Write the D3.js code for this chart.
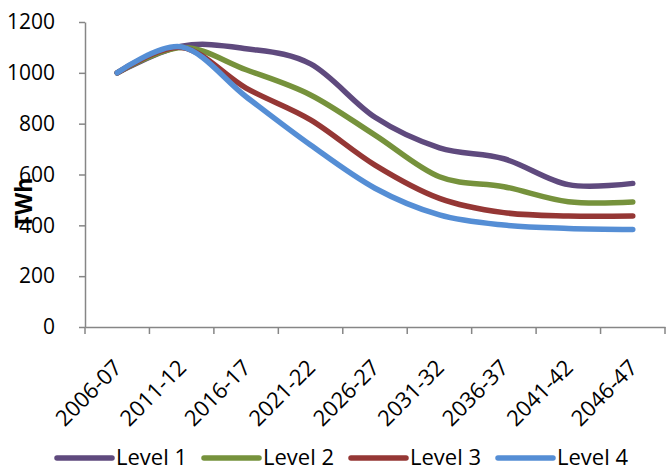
<!DOCTYPE html>
<html>
<head>
<meta charset="utf-8">
<script src="https://cdn.jsdelivr.net/npm/d3@7"></script>
<style>
  html, body { margin: 0; padding: 0; background: #fff; }
  svg { display: block; font-family: "Open Sans", sans-serif; }
</style>
</head>
<body>
<svg id="chart" width="666" height="470"></svg>
<script>
// Electricity demand scenarios, TWh per five-year period
const categories = ["2006-07", "2011-12", "2016-17", "2021-22", "2026-27", "2031-32", "2036-37", "2041-42", "2046-47"];
const seriesNames = ["Level 1", "Level 2", "Level 3", "Level 4"];
const level1 = [1000, 1105, 1095, 1035, 825, 705, 662, 560, 565];
const level2 = [1000, 1100, 1012, 913, 755, 591, 552, 493, 492];
const level3 = [1000, 1100, 940, 815, 637, 506, 450, 437, 437];
const level4 = [1000, 1102, 906, 716, 546, 441, 401, 388, 384];
const yTicks = [0, 200, 400, 600, 800, 1000, 1200];
const colors = ["#5f4a7e", "#76923c", "#953735", "#558ed5"];

const seriesValues = [level1, level2, level3, level4];

const svg = d3.select("#chart");
const plot = { left: 85, right: 665, top: 22, bottom: 327 };

const x = d3.scaleBand().domain(categories).range([plot.left, plot.right]);
const y = d3.scaleLinear().domain([0, 1200]).range([plot.bottom, plot.top]);

const axisColor = "#868686";

// Y axis
const yAxis = svg.append("g")
  .attr("transform", `translate(${plot.left},0)`)
  .call(d3.axisLeft(y).tickValues(yTicks).tickFormat(d3.format("d"))
    .tickSize(6).tickPadding(24).tickSizeOuter(0));
yAxis.select(".domain").attr("stroke", axisColor).attr("stroke-width", 1.5);
yAxis.selectAll(".tick line").attr("stroke", axisColor).attr("stroke-width", 1.5);
yAxis.selectAll(".tick text")
  .attr("font-size", 21).attr("fill", "#000")
  .attr("font-family", "'Open Sans', sans-serif");

// X axis: tick marks sit on category boundaries, labels at category centres
const xAxis = svg.append("g")
  .attr("transform", `translate(0,${plot.bottom})`)
  .call(d3.axisBottom(x).tickSize(0).tickSizeOuter(0).tickPadding(0));
xAxis.select(".domain").attr("stroke", axisColor).attr("stroke-width", 1.5);
xAxis.selectAll(".tick text")
  .attr("font-size", 22).attr("fill", "#000")
  .attr("font-family", "'Open Sans', sans-serif")
  .attr("text-anchor", "end")
  .attr("dy", 0)
  .attr("transform", "translate(6,42) rotate(-45)");

const edges = categories.map(c => x(c)).concat([plot.right]);
xAxis.selectAll("line.edge")
  .data(edges)
  .join("line")
  .attr("class", "edge")
  .attr("x1", d => d).attr("x2", d => d)
  .attr("y1", 0).attr("y2", 7)
  .attr("stroke", axisColor).attr("stroke-width", 1.5);

// Y axis title
svg.append("text")
  .attr("transform", `translate(32,${203}) rotate(-90)`)
  .attr("text-anchor", "middle")
  .attr("font-size", 23).attr("font-weight", "bold")
  .attr("fill", "#000")
  .text("TWh");

// Smoothed series lines
const line = d3.line()
  .x((d, i) => x(categories[i]) + x.bandwidth() / 2)
  .y(d => y(d))
  .curve(d3.curveCardinal.tension(0));

svg.append("g")
  .selectAll("path")
  .data(seriesValues)
  .join("path")
  .attr("d", d => line(d))
  .attr("fill", "none")
  .attr("stroke", (d, i) => colors[i])
  .attr("stroke-width", 5.5)
  .attr("stroke-linecap", "round")
  .attr("stroke-linejoin", "round");

// Legend
const legend = svg.append("g").attr("transform", "translate(57,458)");
const item = legend.selectAll("g")
  .data(seriesNames)
  .join("g")
  .attr("transform", (d, i) => `translate(${i * 147},0)`);
item.append("line")
  .attr("x1", 0).attr("x2", 55)
  .attr("y1", 0).attr("y2", 0)
  .attr("stroke", (d, i) => colors[i])
  .attr("stroke-width", 5.5)
  .attr("stroke-linecap", "round");
item.append("text")
  .attr("x", 59).attr("y", 7)
  .attr("font-size", 22)
  .attr("fill", "#000")
  .text(d => d);
</script>
</body>
</html>
